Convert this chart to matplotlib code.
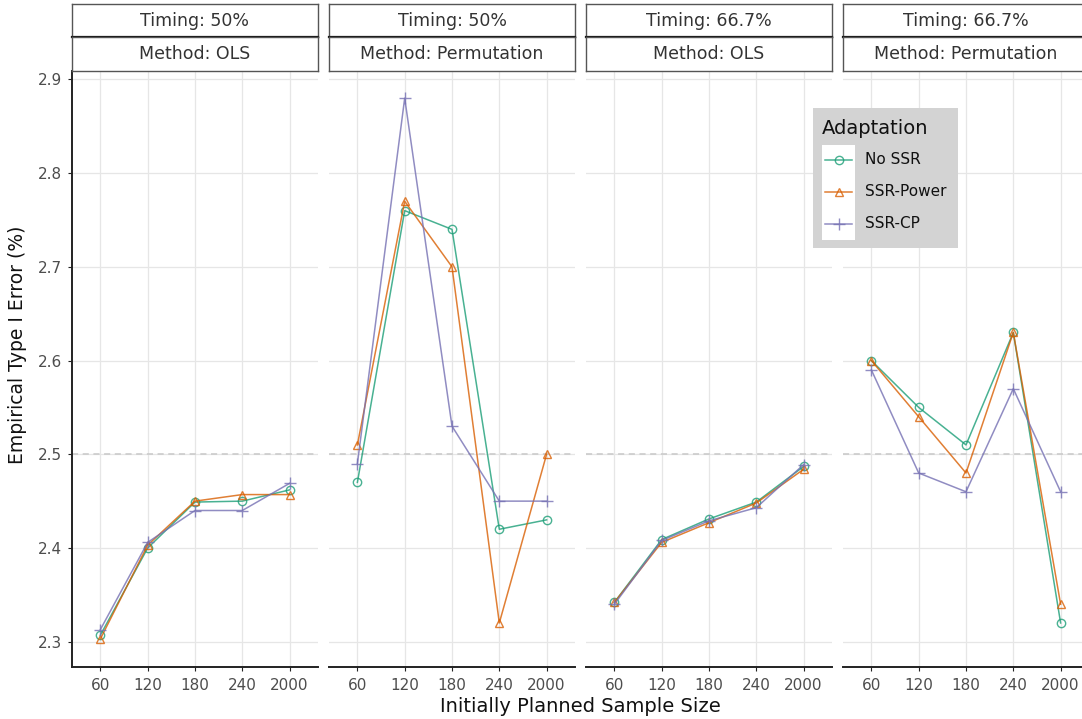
import matplotlib.pyplot as plt
from matplotlib.patches import Rectangle

# sample size categories (discrete axis)
sizes = ['60', '120', '180', '240', '2000']

timings = ['50%', '50%', '66.7%', '66.7%']
methods = ['OLS', 'Permutation', 'OLS', 'Permutation']

# empirical type I error (%) per panel, one list per adaptation
no_ssr = [
    [2.307, 2.400, 2.449, 2.450, 2.462],
    [2.47, 2.76, 2.74, 2.42, 2.43],
    [2.342, 2.409, 2.431, 2.449, 2.487],
    [2.60, 2.55, 2.51, 2.63, 2.32],
]
ssr_power = [
    [2.303, 2.403, 2.450, 2.457, 2.457],
    [2.51, 2.77, 2.70, 2.32, 2.50],
    [2.342, 2.406, 2.427, 2.448, 2.484],
    [2.60, 2.54, 2.48, 2.63, 2.34],
]
ssr_cp = [
    [2.313, 2.406, 2.440, 2.440, 2.469],
    [2.49, 2.88, 2.53, 2.45, 2.45],
    [2.340, 2.408, 2.429, 2.443, 2.489],
    [2.59, 2.48, 2.46, 2.57, 2.46],
]

series = [
    ('No SSR', no_ssr, '#1B9E77', 'o'),
    ('SSR-Power', ssr_power, '#D95F02', '^'),
    ('SSR-CP', ssr_cp, '#7570B3', '+'),
]

W, H = 1082, 719
fig = plt.figure(figsize=(W / 100, H / 100), dpi=100)

def px(x0, y0, x1, y1):
    return [x0 / W, 1 - y1 / H, (x1 - x0) / W, (y1 - y0) / H]

def msize(mk):
    return 9 if mk == '+' else 6

lefts = [72, 329, 586, 843]
pw = 246
xs = list(range(1, len(sizes) + 1))

for i, left in enumerate(lefts):
    ax = fig.add_axes(px(left, 71, left + pw, 667))
    ax.set_xlim(0.4, 5.6)
    ax.set_ylim(2.273, 2.909)
    ax.set_xticks(xs)
    ax.set_xticklabels(sizes)
    ax.set_yticks([2.3, 2.4, 2.5, 2.6, 2.7, 2.8, 2.9])
    ax.grid(True, color='#e6e6e6', linewidth=0.9)
    ax.set_axisbelow(True)
    ax.axhline(2.5, color='#c8c8c8', linestyle=(0, (4, 3)), linewidth=1.1, zorder=1)
    for sp in ['top', 'right']:
        ax.spines[sp].set_visible(False)
    ax.spines['bottom'].set_color('#222222')
    ax.spines['bottom'].set_linewidth(1.4)
    if i == 0:
        ax.spines['left'].set_color('#222222')
        ax.spines['left'].set_linewidth(1.4)
        ax.tick_params(axis='y', labelsize=11, labelcolor='#4d4d4d',
                       color='#222222', length=3, pad=4)
    else:
        ax.spines['left'].set_visible(False)
        ax.tick_params(axis='y', left=False, labelleft=False)
    ax.tick_params(axis='x', labelsize=11, labelcolor='#4d4d4d', color='#222222',
                   length=3, pad=5)

    for name, vals, col, mk in series:
        ax.plot(xs, vals[i], color=col, alpha=0.8, linewidth=1.1,
                marker=mk, markersize=msize(mk),
                markerfacecolor='none', markeredgecolor=col, markeredgewidth=1.0,
                zorder=3)

    # facet strips
    for j, (label, y0, y1) in enumerate([('Timing: ' + timings[i], 4, 37),
                                         ('Method: ' + methods[i], 37, 71)]):
        sax = fig.add_axes(px(left, y0, left + pw, y1))
        sax.set_xticks([])
        sax.set_yticks([])
        for sp in sax.spines.values():
            sp.set_color('#555555')
            sp.set_linewidth(1.0)
        if j == 0:
            sax.spines['bottom'].set_color('#111111')
            sax.spines['bottom'].set_linewidth(1.6)
        sax.text(0.5, 0.5, label, ha='center', va='center', fontsize=12.5,
                 color='#333333', transform=sax.transAxes)

fig.text(18 / W, 1 - 345 / H, 'Empirical Type I Error (%)', rotation=90,
         ha='center', va='center', fontsize=13.5, color='#111111')
fig.text(580 / W, 1 - 706 / H, 'Initially Planned Sample Size',
         ha='center', va='center', fontsize=14, color='#111111')

# legend box (gray panel, white key column)
lax = fig.add_axes(px(813, 108, 958, 248))
lax.set_xlim(813, 958)
lax.set_ylim(248, 108)
lax.set_facecolor('#d3d3d3')
lax.set_xticks([])
lax.set_yticks([])
for sp in lax.spines.values():
    sp.set_visible(False)
lax.add_patch(Rectangle((822, 145), 33, 95, facecolor='white', edgecolor='none'))
lax.text(822, 128, 'Adaptation', ha='left', va='center', fontsize=14, color='#111111')
for k, (name, _, col, mk) in enumerate(series):
    yk = 160 + k * 32
    lax.plot([825, 852], [yk, yk], color=col, alpha=0.8, linewidth=1.1)
    lax.plot([838.5], [yk], color=col, alpha=0.8, marker=mk, markersize=msize(mk),
             markerfacecolor='none', markeredgecolor=col)
    lax.text(865, yk, name, ha='left', va='center', fontsize=11, color='#111111')

fig.savefig('out.png', dpi=100)
